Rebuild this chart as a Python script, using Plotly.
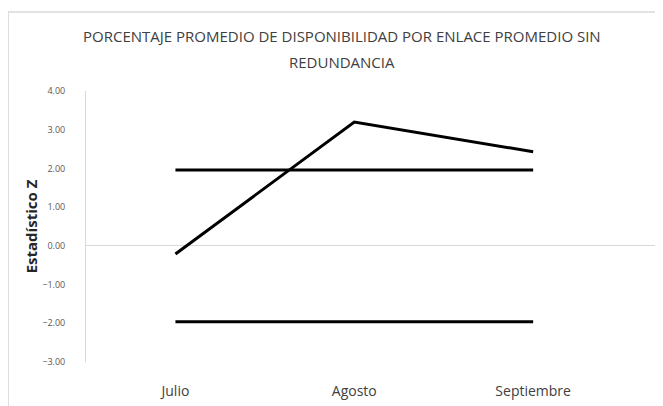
import plotly.graph_objects as go

categories = ["Julio", "Agosto", "Septiembre"]
z_values = [-0.21, 3.20, 2.43]
upper_limit = [1.96, 1.96, 1.96]
lower_limit = [-1.96, -1.96, -1.96]
y_ticks = [4, 3, 2, 1, 0, -1, -2, -3]
title_lines = ["PORCENTAJE PROMEDIO DE DISPONIBILIDAD POR ENLACE PROMEDIO SIN", "REDUNDANCIA"]

FONT = "Open Sans"
fig = go.Figure()
for vals in (z_values, upper_limit, lower_limit):
    fig.add_trace(go.Scatter(x=categories, y=vals, mode="lines",
                             line=dict(color="black", width=3),
                             showlegend=False, hoverinfo="skip"))

# page has an 8px body margin; figure sized so it fits the 663x406 window
fig.update_layout(
    width=655, height=398,
    margin=dict(l=78, r=0, t=83, b=44),
    paper_bgcolor="white", plot_bgcolor="white",
    font=dict(family=FONT),
)
# title lines as annotations (container-relative positions)
for txt, ypix in zip(title_lines, (36, 62)):
    fig.add_annotation(text=txt, xref="paper", yref="paper",
                       x=(342 - 86) / 577, y=1 + (91 - ypix) / 271,
                       xanchor="center", yanchor="middle", showarrow=False,
                       font=dict(family=FONT, size=15, color="#404040"))

fig.update_xaxes(range=[-0.5, 2.726], showgrid=False, showline=False, zeroline=False,
                 ticks="", ticklabelstandoff=19,
                 tickfont=dict(family=FONT, size=14, color="#404040"))
fig.update_yaxes(range=[-3, 4], tickvals=y_ticks, tickformat=".2f",
                 showgrid=False, zeroline=True, zerolinecolor="#d9d9d9", zerolinewidth=1,
                 showline=True, linecolor="#d9d9d9", linewidth=1,
                 ticks="", ticklabelstandoff=18,
                 tickfont=dict(family=FONT, size=9, color="#595959"),
                 title=dict(text="<b>Estadístico Z</b>", standoff=0,
                            font=dict(family=FONT, size=15, color="#262626")))
fig.add_shape(type="rect", xref="paper", yref="paper",
              x0=-0.135, x1=1.1, y0=-0.3, y1=1.2915,
              line=dict(color="#d9d9d9", width=1.5), layer="below")
fig.write_html("out.html")
